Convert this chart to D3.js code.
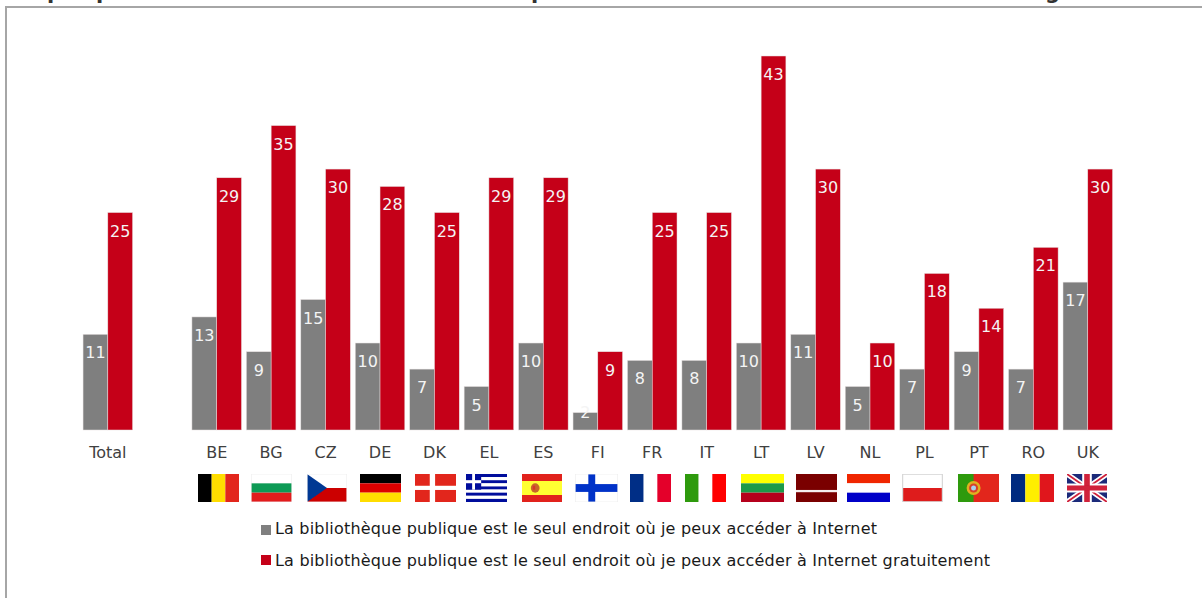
<!DOCTYPE html>
<html><head><meta charset="utf-8">
<script src="https://cdn.jsdelivr.net/npm/d3@7"></script>
<style>html,body{margin:0;padding:0;background:#fff;overflow:hidden}svg{display:block;font-family:"DejaVu Sans",sans-serif}</style>
</head><body><svg id="c" width="1202" height="598"></svg>
<script>
const categories = ["Total","","BE","BG","CZ","DE","DK","EL","ES","FI","FR","IT","LT","LV","NL","PL","PT","RO","UK"];
const seriesOnly = [11,null,13,9,15,10,7,5,10,2,8,8,10,11,5,7,9,7,17];
const seriesFree = [25,null,29,35,30,28,25,29,29,9,25,25,43,30,10,18,14,21,30];
const legendLabels = ["La bibliothèque publique est le seul endroit où je peux accéder à Internet",
  "La bibliothèque publique est le seul endroit où je peux accéder à Internet gratuitement"];
const seriesColors = ["#7f7f7f","#c50018"];
const flagCodes = ["BE","BG","CZ","DE","DK","EL","ES","FI","FR","IT","LT","LV","NL","PL","PT","RO","UK"];
const flagLeft = [198,251,307,360,415,466,522,575,630,685,741,796,847,902,958,1011,1067];
const flagWidth = [41,41,40,41,41,41,40,43,41,41,43,41,43,41,41,43,40];
const flagStripes = {
  BE:["v","#000000","#ffdd00","#e2271a"], BG:["h","#ffffff","#0f9a55","#e21a1f"], CZ:["h","#ffffff","#cc0000"],
  DE:["h","#000000","#dd0000","#ffdd00"], DK:["h","#e2271a"], EL:["h","#00099c","#ffffff","#00099c","#ffffff","#00099c","#ffffff","#00099c","#ffffff","#00099c"],
  ES:["h","#e1201a","#ffff33","#ffff33","#e1201a"], FI:["h","#ffffff"], FR:["v","#002f86","#ffffff","#e4002b"],
  IT:["v","#2f9a0e","#ffffff","#ff0000"], LT:["h","#ffff00","#1f9a4a","#b5001e"], LV:["h","#7a0000"],
  NL:["h","#f02800","#ffffff","#0000c8"], PL:["h","#ffffff","#de1a1a"], PT:["h","#e2281a"],
  RO:["v","#002b7f","#ffee00","#e0161e"], UK:["h","#1a2a7a"]
};

const svg = d3.select("#c");
const W = 1202;
svg.append("defs").append("filter").attr("id","soft").append("feGaussianBlur").attr("stdDeviation",0.35);

// frame
svg.append("path").attr("d",`M6,598V7H${W}`).attr("fill","none").attr("stroke","#a6a6a6").attr("stroke-width",2);

// clipped title remnants: only the descenders of the cut-off heading are visible
const clipTitle = svg.append("g").attr("font-size",21).attr("font-weight","bold").attr("fill","#333");
[["p",47],["p",96],["p",531],["g",1045]].forEach(([t,x])=>clipTitle.append("text").attr("x",x).attr("y",-1.5).text(t));

const x0 = d3.scaleBand().domain(categories).range([80.6,1115]).paddingInner(0.09).paddingOuter(0.045);
const x1 = d3.scaleBand().domain([0,1]).range([0,x0.bandwidth()]);
const y = d3.scaleLinear().domain([0,43]).range([430,56]);

[seriesOnly,seriesFree].forEach((vals,s)=>{
  const rows = categories.map((c,i)=>({c,v:vals[i]})).filter(d=>d.v!==null);
  svg.append("g").selectAll("rect").data(rows).join("rect")
    .attr("x",d=>x0(d.c)+x1(s)).attr("width",x1.bandwidth())
    .attr("y",d=>y(d.v)).attr("height",d=>y(0)-y(d.v))
    .attr("fill",seriesColors[s]).attr("stroke","#e6e0e0").attr("stroke-width",0.5);
  svg.append("g").selectAll("text").data(rows).join("text")
    .attr("x",d=>x0(d.c)+x1(s)+x1.bandwidth()/2)
    .attr("y",d=>Math.min(y(d.v)+24,418))
    .attr("text-anchor","middle").attr("font-size",16).attr("fill","#f4f4f4")
    .text(d=>d.v);
});

// category axis
const ax = svg.append("g").attr("transform","translate(0,430)")
  .call(d3.axisBottom(x0).tickValues(categories.filter(c=>c)).tickSize(0).tickPadding(14));
ax.select(".domain").remove();
ax.selectAll("text").attr("font-family","DejaVu Sans").attr("font-size",16).attr("fill","#404040").attr("dy",0).attr("y",28);

// flags
const fy = 474, fh = 28;
flagCodes.forEach((code,i)=>{
  const w = flagWidth[i];
  const f = svg.append("svg").attr("x",flagLeft[i]).attr("y",fy).attr("width",w).attr("height",fh)
    .attr("viewBox","0 0 100 100").attr("preserveAspectRatio","none").append("g").attr("filter","url(#soft)");
  const spec = flagStripes[code];
  const cols = spec.slice(1), vert = spec[0]==="v";
  const band = d3.scaleBand().domain(d3.range(cols.length)).range([0,100]);
  f.selectAll("rect").data(cols).join("rect")
    .attr("x",(d,j)=>vert?band(j):0).attr("y",(d,j)=>vert?0:band(j))
    .attr("width",vert?band.bandwidth():100).attr("height",vert?100:band.bandwidth()).attr("fill",d=>d);
  const r=(a,b,c,d,col)=>f.append("rect").attr("x",a).attr("y",b).attr("width",c).attr("height",d).attr("fill",col);
  const p=(dd,col,sw)=>f.append("path").attr("d",dd).attr("fill",sw?"none":col).attr("stroke",sw?col:"none").attr("stroke-width",sw||0);
  if(code==="CZ") p("M0,0L50,50L0,100Z","#003893");
  if(code==="DK"){ r(36,0,13,100,"#fff"); r(0,42,100,15,"#fff"); }
  if(code==="EL"){ r(0,0,37,56,"#00099c"); r(15,0,7,56,"#fff"); r(0,22,37,11,"#fff"); }
  if(code==="ES"){ f.append("ellipse").attr("cx",33).attr("cy",50).attr("rx",11).attr("ry",17).attr("fill","#c8662a"); r(27,42,6,14,"#d8342a"); }
  if(code==="FI"){ r(31,0,16,100,"#0033c8"); r(0,36,100,28,"#0033c8"); }
  if(code==="LV"){ r(0,57,100,8,"#f5eeee"); }
  if(["BG","CZ","FI"].includes(code)){ f.append("rect").attr("width",100).attr("height",100).attr("fill","none").attr("stroke","#eeeeee").attr("stroke-width",3); }
  if(code==="PL"){ f.append("rect").attr("width",100).attr("height",100).attr("fill","none").attr("stroke","#d8d8d8").attr("stroke-width",6); }
  if(code==="PT"){ r(0,0,38,100,"#2f9a0e"); f.append("ellipse").attr("cx",38).attr("cy",50).attr("rx",17).attr("ry",25).attr("fill","#e0b020");
    f.append("ellipse").attr("cx",38).attr("cy",50).attr("rx",11).attr("ry",16).attr("fill","#d8402a");
    f.append("ellipse").attr("cx",38).attr("cy",50).attr("rx",6).attr("ry",9).attr("fill","#a8d0f0"); }
  if(code==="UK"){ p("M0,0L100,100M100,0L0,100","#fff",16); p("M0,0L100,100M100,0L0,100","#d0203a",6);
    r(38,0,24,100,"#fff"); r(0,34,100,32,"#fff"); r(43,0,14,100,"#d0203a"); r(0,41,100,18,"#d0203a"); }
});

// legend
const legendLengths = [602,715];
const legendBaselines = [534,566];
const lg = svg.append("g");
legendLabels.forEach((t,i)=>{
  const ly = 525+i*30;
  lg.append("rect").attr("x",261).attr("y",ly).attr("width",10).attr("height",10).attr("fill",seriesColors[i]);
  lg.append("text").attr("x",275).attr("y",legendBaselines[i]).attr("font-size",16).attr("fill","#1a1a1a")
    .attr("textLength",legendLengths[i]).attr("lengthAdjust","spacing").text(t);
});
</script></body></html>
